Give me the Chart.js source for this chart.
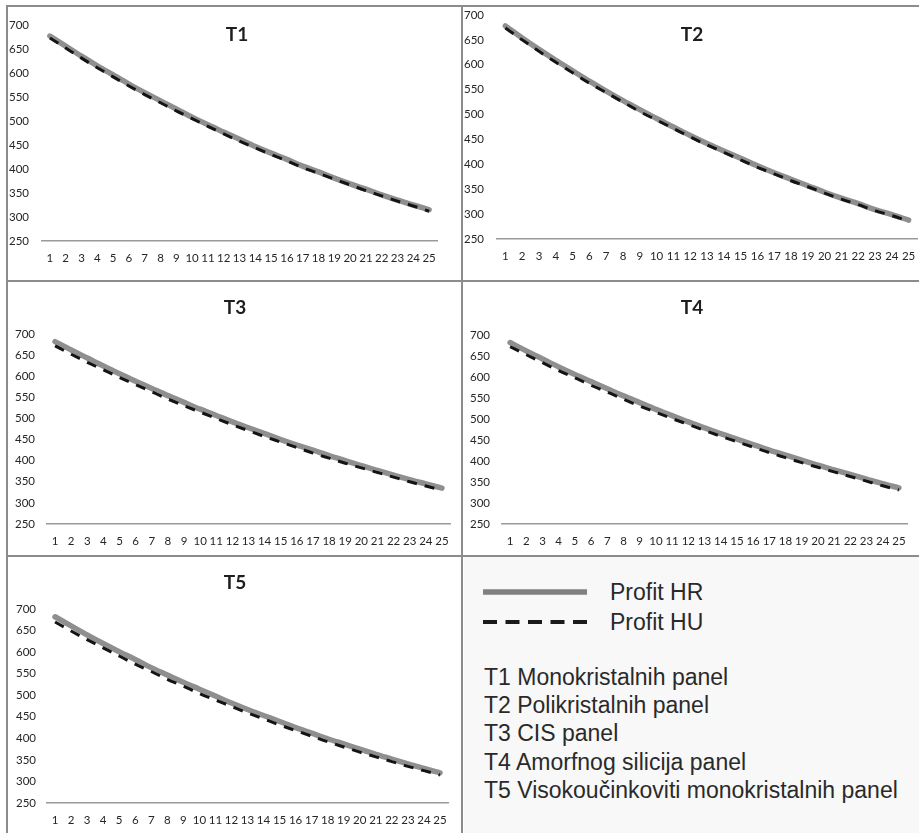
<!DOCTYPE html>
<html><head><meta charset="utf-8">
<script src="https://cdn.jsdelivr.net/npm/chart.js@4"></script>
<style>
html,body{margin:0;padding:0;background:#fff;}
body{width:919px;height:833px;position:relative;overflow:hidden;font-family:Lato,sans-serif;}
.ln{position:absolute;background:#8c8c8c;}
canvas{position:absolute;}
.ttl{position:absolute;font:bold 19px Lato,sans-serif;color:#1e1e1e;transform:translate(-50%,-50%);white-space:nowrap;}
#legend{position:absolute;left:464px;top:557px;width:455px;height:276px;background:#f8f8f8;font-family:"Liberation Sans",Arial,sans-serif;color:#2a2a2a;font-size:23px;}
#legend .t{position:absolute;left:20px;height:28px;line-height:28px;white-space:nowrap;}
</style></head><body>
<div class="ln" style="left:6px;top:5px;width:913px;height:2px"></div>
<div class="ln" style="left:6px;top:5px;width:2px;height:828px"></div>
<div class="ln" style="left:461px;top:5px;width:2px;height:828px"></div>
<div class="ln" style="left:6px;top:280px;width:913px;height:2px"></div>
<div class="ln" style="left:6px;top:555px;width:913px;height:2px"></div>

<canvas id="c1" width="453" height="273" style="left:8px;top:7px"></canvas>
<canvas id="c2" width="455" height="273" style="left:464px;top:7px"></canvas>
<canvas id="c3" width="453" height="273" style="left:8px;top:282px"></canvas>
<canvas id="c4" width="455" height="273" style="left:464px;top:282px"></canvas>
<canvas id="c5" width="453" height="276" style="left:8px;top:557px"></canvas>

<div class="ttl" style="left:237px;top:33px">T1</div>
<div class="ttl" style="left:692px;top:33px">T2</div>
<div class="ttl" style="left:235px;top:306px">T3</div>
<div class="ttl" style="left:692px;top:306px">T4</div>
<div class="ttl" style="left:235px;top:581px">T5</div>

<div id="legend">
  <svg width="455" height="276" style="position:absolute;left:0;top:0">
    <line x1="19" y1="35" x2="123" y2="35" stroke="#808080" stroke-width="5.5"/>
    <line x1="19" y1="65" x2="123" y2="65" stroke="#1a1a1a" stroke-width="4" stroke-dasharray="14 8.5"/>
  </svg>
  <div class="t" style="left:146px;top:21px">Profit HR</div>
  <div class="t" style="left:146px;top:51px">Profit HU</div>
  <div class="t" style="top:106px">T1 Monokristalnih panel</div>
  <div class="t" style="top:134px">T2 Polikristalnih panel</div>
  <div class="t" style="top:162px">T3 CIS panel</div>
  <div class="t" style="top:191px">T4 Amorfnog silicija panel</div>
  <div class="t" style="top:219px">T5 Visokoučinkoviti monokristalnih panel</div>
</div>

<script>
const years = ['1','2','3','4','5','6','7','8','9','10','11','12','13','14','15','16','17','18','19','20','21','22','23','24','25'];
const yTickValues = [250,300,350,400,450,500,550,600,650,700];

const t1HR = [677,656,635,615,596,577,559,542,525,508,492,477,462,447,433,420,406,394,381,369,358,346,335,325,315];
const t1HU = [673,652,631,611,592,573,555,538,521,505,489,473,458,444,430,417,403,391,379,367,355,344,333,323,312];
const t2HR = [678,654,631,609,588,567,547,528,510,492,475,458,442,427,412,397,383,370,357,344,332,321,309,299,288];
const t2HU = [674,650,627,605,584,563,544,525,506,489,472,455,439,424,409,394,381,367,355,342,330,319,307,297,286];
const t3HR = [682,662,643,624,606,588,571,554,538,522,507,492,478,464,450,437,425,412,400,388,377,366,355,345,335];
const t3HU = [672,652,633,615,597,580,563,546,530,515,500,485,471,457,444,431,418,406,394,383,372,361,350,340,330];
const t4HR = [682,662,643,624,606,589,572,555,539,523,508,493,479,465,452,439,426,414,402,390,379,368,357,346,336];
const t4HU = [672,653,634,615,598,580,564,547,531,516,501,487,473,459,446,433,420,408,396,385,374,363,352,341,331];
const t5HR = [682,661,640,620,601,583,564,547,530,514,498,482,467,453,439,425,412,399,387,375,363,352,341,330,320];
const t5HU = [670,649,629,610,591,572,555,537,521,504,489,474,459,445,431,418,405,392,380,368,357,346,335,325,315];

Chart.defaults.font.family = 'Lato, sans-serif';

function makeChart(id, hr, hu, g) {
  const tickFont = {family: 'Lato, sans-serif', size: 11.5};
  return new Chart(document.getElementById(id), {
    type: 'line',
    data: {
      labels: years,
      datasets: [
        {label: 'Profit HU', data: hu, borderColor: '#141414', borderWidth: 3, borderDash: [10, 8],
         pointRadius: 0, order: 0, fill: false, cubicInterpolationMode: 'monotone'},
        {label: 'Profit HR', data: hr, borderColor: '#8f8f8f', borderWidth: 5.5, pointRadius: 0, order: 1,
         fill: false, borderCapStyle: 'round', borderJoinStyle: 'round', cubicInterpolationMode: 'monotone'}
      ]
    },
    options: {
      responsive: false, animation: false, devicePixelRatio: 1,
      layout: {padding: {left: 0, top: g.pt, right: g.pr, bottom: 0}},
      plugins: {legend: {display: false}, title: {display: false}, tooltip: {enabled: false}},
      scales: {
        x: {
          type: 'category', offset: true,
          grid: {display: false, drawTicks: true, tickLength: 10},
          border: {display: true, color: '#9a9a9a', width: 1.5},
          ticks: {autoSkip: false, maxRotation: 0, minRotation: 0, padding: 0, color: '#262626', font: tickFont},
          afterFit: s => { s.height = g.xh; }
        },
        y: {
          min: yTickValues[0], max: yTickValues[yTickValues.length - 1],
          grid: {display: false, drawTicks: true, tickLength: g.yt},
          border: {display: false},
          ticks: {stepSize: yTickValues[1] - yTickValues[0], padding: 0, color: '#262626', font: tickFont},
          afterFit: s => { s.width = g.yw; }
        }
      }
    }
  });
}

makeChart('c1', t1HR, t1HU, {pt: 18, pr: 24, yw: 34, xh: 39, yt: 13});
makeChart('c2', t2HR, t2HU, {pt: 8, pr: 2, yw: 33, xh: 41, yt: 13});
makeChart('c3', t3HR, t3HU, {pt: 52, pr: 11, yw: 39, xh: 31, yt: 12});
makeChart('c4', t4HR, t4HU, {pt: 53, pr: 12, yw: 38, xh: 31, yt: 12});
makeChart('c5', t5HR, t5HU, {pt: 52, pr: 13, yw: 39, xh: 30, yt: 11});
</script>
</body></html>
